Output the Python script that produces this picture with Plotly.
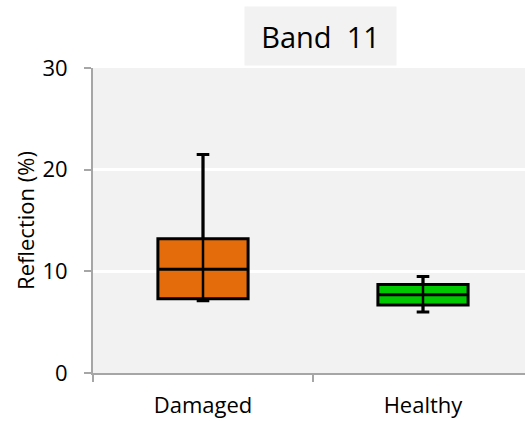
import plotly.graph_objects as go

categories = ["Damaged", "Healthy"]
lower_whisker = [7.1, 6.0]
q1_values = [7.3, 6.7]
median_values = [10.2, 7.7]
q3_values = [13.2, 8.7]
upper_whisker = [21.5, 9.5]
fill_colors = ["#E46C0A", "#00C800"]
y_ticks = [0, 10, 20, 30]

FONT = "Open Sans"

fig = go.Figure()
for i, cat in enumerate(categories):
    fig.add_trace(go.Box(
        x=[cat],
        q1=[q1_values[i]], median=[median_values[i]], q3=[q3_values[i]],
        lowerfence=[lower_whisker[i]], upperfence=[upper_whisker[i]],
        fillcolor=fill_colors[i],
        line=dict(color="black", width=3),
        width=0.41,
        whiskerwidth=0.14,
        boxpoints=False,
        showlegend=False,
        hoverinfo="skip",
    ))
for i, cat in enumerate(categories):
    fig.add_trace(go.Scatter(
        x=[cat, cat], y=[lower_whisker[i], upper_whisker[i]],
        mode="lines", line=dict(color="black", width=2.5),
        showlegend=False, hoverinfo="skip",
    ))

fig.update_layout(
    width=525, height=421,
    margin=dict(l=93, r=0, t=68, b=48),
    paper_bgcolor="white",
    plot_bgcolor="#F2F2F2",
    font=dict(family=FONT, size=22, color="black"),
    boxmode="overlay",
    xaxis=dict(
        type="category",
        categoryorder="array", categoryarray=categories,
        range=[-0.5, 1.5 - 8 / 220],
        showline=True, linecolor="#A6A6A6", linewidth=2,
        ticks="outside", tickson="boundaries", ticklen=7, tickwidth=2, tickcolor="#A6A6A6",
        showgrid=False, zeroline=False,
        tickfont=dict(family=FONT, size=22),
        ticklabelstandoff=12,
    ),
    yaxis=dict(
        range=[0, 30],
        tickvals=y_ticks,
        showline=True, linecolor="#A6A6A6", linewidth=2,
        ticks="outside", ticklen=7, tickwidth=2, tickcolor="#A6A6A6",
        showgrid=True, gridcolor="white", gridwidth=3,
        zeroline=False,
        tickfont=dict(family=FONT, size=22),
        ticklabelstandoff=12,
        title=dict(text="Reflection (%)", font=dict(family=FONT, size=22), standoff=2),
    ),
    annotations=[dict(
        text="Band\u00a0 11",
        xref="paper", yref="paper",
        x=(320.5 - 93) / 432, y=(373 - 36) / 305,
        xanchor="center", yanchor="middle",
        showarrow=False,
        width=151, height=58,
        bgcolor="#F2F2F2", borderpad=0,
        font=dict(family=FONT, size=29, color="black"),
    )],
)

fig.write_html("out.html")
